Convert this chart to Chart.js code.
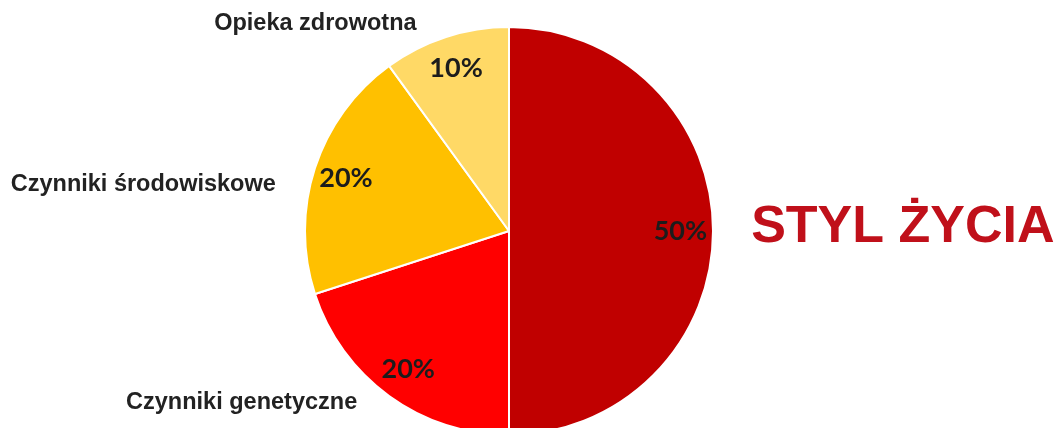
<!DOCTYPE html>
<html>
<head>
<meta charset="utf-8">
<script src="https://cdn.jsdelivr.net/npm/chart.js@4"></script>
<style>
html,body{margin:0;padding:0;background:#fff;overflow:hidden;}
#wrap{position:relative;width:1062px;height:428px;overflow:hidden;}
</style>
</head>
<body>
<div id="wrap"><canvas id="c" width="1062" height="436"></canvas></div>
<script>
const categories = ['Styl życia', 'Czynniki genetyczne', 'Czynniki środowiskowe', 'Opieka zdrowotna'];
const values = [50, 20, 20, 10];
const percentLabels = ['50%', '20%', '20%', '10%'];
const outerLabels = ['', 'Czynniki genetyczne', 'Czynniki środowiskowe', 'Opieka zdrowotna'];
const colors = ['#C00000', '#FF0000', '#FFC000', '#FFD966'];
const titleText = 'STYL ŻYCIA';

const labelPlugin = {
  id: 'labelPlugin',
  afterDatasetsDraw(chart) {
    const ctx = chart.ctx;
    const meta = chart.getDatasetMeta(0);
    ctx.save();
    meta.data.forEach((arc, i) => {
      const mid = (arc.startAngle + arc.endAngle) / 2;
      const r = arc.outerRadius * 0.84;
      const x = arc.x + Math.cos(mid) * r;
      const y = arc.y + Math.sin(mid) * r;
      ctx.font = 'bold 27px Lato';
      ctx.fillStyle = '#1c1c1c';
      ctx.textAlign = 'center';
      ctx.textBaseline = 'middle';
      ctx.fillText(percentLabels[i], x, y);
    });
    const a0 = meta.data[0];
    const cx = a0.x, cy = a0.y, R = a0.outerRadius;
    ctx.font = 'bold 23.5px "Liberation Sans"';
    ctx.fillStyle = '#222222';
    ctx.textBaseline = 'middle';
    ctx.textAlign = 'right';
    ctx.fillText(outerLabels[3], cx - R * 0.453, cy - R * 1.015);
    ctx.fillText(outerLabels[2], cx - R * 1.143, cy - R * 0.227);
    ctx.fillText(outerLabels[1], cx - R * 0.744, cy + R * 0.842);
    ctx.textAlign = 'left';
    ctx.font = 'bold 52px "Liberation Sans"';
    ctx.fillStyle = '#C0101A';
    ctx.fillText(titleText, cx + R * 1.187, cy - R * 0.015);
    ctx.restore();
  }
};

new Chart(document.getElementById('c'), {
  type: 'pie',
  data: {
    labels: categories,
    datasets: [{
      data: values,
      backgroundColor: colors,
      borderColor: '#ffffff',
      borderWidth: 2
    }]
  },
  options: {
    responsive: false,
    animation: false,
    layout: { padding: { top: 26, bottom: 0, left: 304, right: 348 } },
    plugins: { legend: { display: false }, tooltip: { enabled: false } }
  },
  plugins: [labelPlugin]
});
</script>
</body>
</html>
